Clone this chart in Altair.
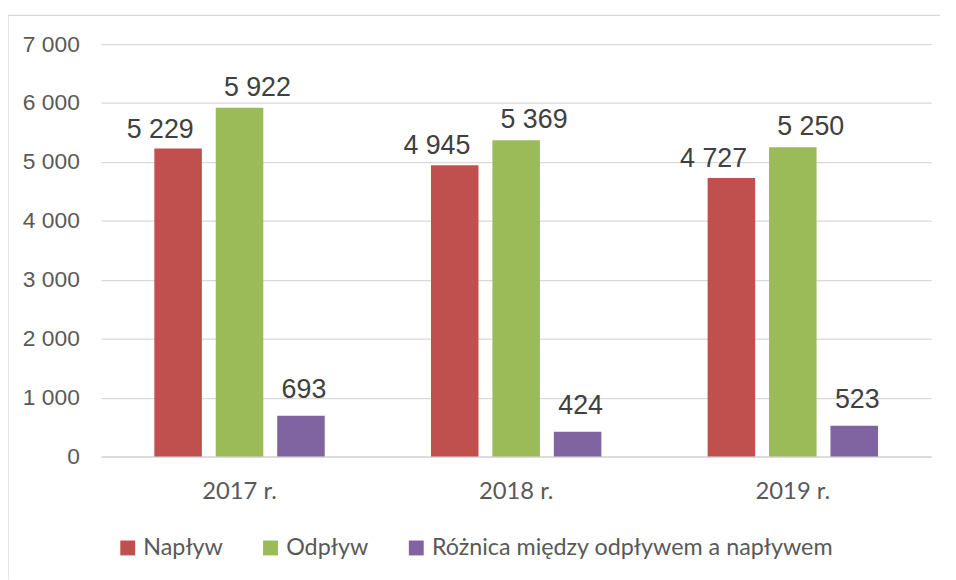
import altair as alt
import pandas as pd

years = ["2017 r.", "2018 r.", "2019 r."]
series = ["Napływ", "Odpływ", "Różnica między odpływem  a napływem"]
naplyw = [5229, 4945, 4727]
odplyw = [5922, 5369, 5250]
roznica = [693, 424, 523]
colors = ["#C0504D", "#9BBB59", "#8064A2"]
y_ticks = [0, 1000, 2000, 3000, 4000, 5000, 6000, 7000]

rows = []
for s, vals in zip(series, [naplyw, odplyw, roznica]):
    for yr, v in zip(years, vals):
        rows.append({"Rok": yr, "Seria": s, "Wartość": v,
                     "Etykieta": f"{v:,}".replace(",", " ")})
df = pd.DataFrame(rows)

GRID = "#D9D9D9"

x_enc = alt.X("Rok:N", sort=years,
              scale=alt.Scale(paddingInner=0.384, paddingOuter=0.192),
              axis=alt.Axis(title=None, labelAngle=0, ticks=False, domainColor=GRID,
                            domainWidth=1.5, labelFont="Lato", labelFontSize=24,
                            labelColor="#595959", labelPadding=23))
xo_enc = alt.XOffset("Seria:N", sort=series,
                     scale=alt.Scale(domain=series, paddingInner=0.226, paddingOuter=0))
y_enc = alt.Y("Wartość:Q", scale=alt.Scale(domain=[0, 7000], nice=False),
              axis=alt.Axis(title=None, values=y_ticks, domain=False, ticks=False,
                            gridColor=GRID, gridWidth=1.3,
                            labelFont="Liberation Sans", labelFontSize=23,
                            labelColor="#595959", labelPadding=22,
                            labelExpr="replace(format(datum.value, ','), ',', ' ')"))

bars = alt.Chart(df).mark_bar().encode(
    x=x_enc, xOffset=xo_enc, y=y_enc,
    color=alt.Color("Seria:N", sort=series,
                    scale=alt.Scale(domain=series, range=colors),
                    legend=alt.Legend(title=None, orient="none", legendX=15, legendY=496,
                                      direction="horizontal", symbolType="square",
                                      symbolSize=225, symbolStrokeWidth=0,
                                      labelFont="Lato", labelFontSize=23.5,
                                      labelColor="#595959", labelOffset=4,
                                      columnPadding=36, padding=0, labelLimit=600)),
)


def labels(s, dx, dy):
    return alt.Chart(df).transform_filter(alt.datum.Seria == s).mark_text(
        dx=dx, dy=dy, baseline="alphabetic", font="Liberation Sans",
        fontSize=27, color="#404040"
    ).encode(x=x_enc, xOffset=xo_enc, y=y_enc, text="Etykieta:N")


frame_src = pd.DataFrame({"a": [0]})
frame_left = alt.Chart(frame_src).mark_rule(color=GRID, strokeWidth=1.5).encode(
    x=alt.value(-94), y=alt.value(-29), y2=alt.value(540))
frame_top = alt.Chart(frame_src).mark_rule(color=GRID, strokeWidth=1.5).encode(
    x=alt.value(-94), x2=alt.value(846), y=alt.value(-29))

chart = alt.layer(
    frame_left, frame_top, bars,
    labels(series[0], -18, -11),
    labels(series[1], 18, -12),
    labels(series[2], 3, -18),
).properties(
    width=837, height=416,
    autosize="none",
    padding={"left": 94, "top": 34, "right": 17, "bottom": 122},
).configure_view(strokeWidth=0)

chart.save("out.html", embed_options={"renderer": "svg", "actions": False})
